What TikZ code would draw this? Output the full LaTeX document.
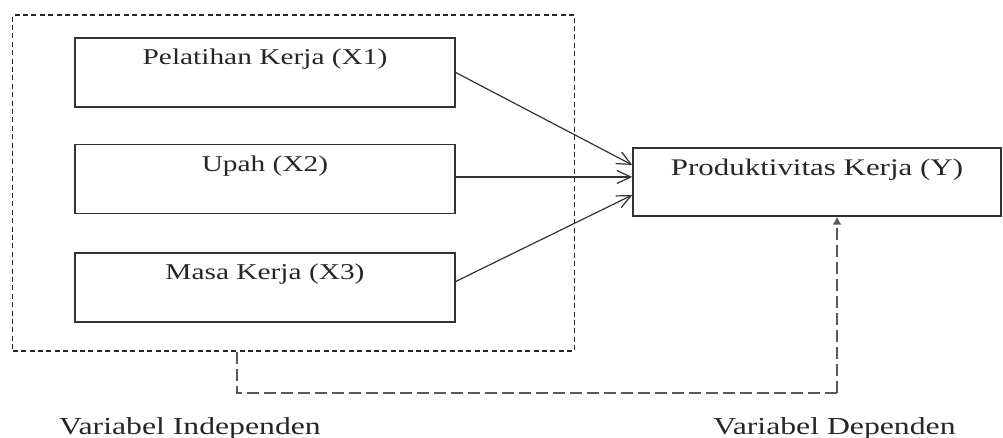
\documentclass[tikz,border=0pt]{standalone}
\usepackage{fontspec}
\setmainfont{Liberation Serif}[FakeStretch=1.3]
\usetikzlibrary{arrows.meta}

\begin{document}
\begin{tikzpicture}[x=1pt,y=1pt,
  varbox/.style={draw=black!80,line width=0.7pt,inner sep=0pt,
    minimum width=190pt,text height=13.5pt,text depth=21pt,
    text=black!85,font=\fontsize{11.3}{13}\selectfont},
  depbox/.style={varbox,minimum width=184pt,text height=14pt,text depth=20pt,
    font=\fontsize{11.9}{14}\selectfont},
  grpbox/.style={draw=black!85,line width=0.6pt,dash pattern=on 2.5pt off 1.7pt,
    minimum width=281pt,minimum height=168pt},
  infl/.style={draw=black!80,line width=0.6pt,-{Straight Barb[length=7pt,width=6.5pt]}},
  link/.style={draw=black!65,line width=0.7pt,dash pattern=on 6pt off 2.5pt},
  caption/.style={anchor=base,text=black!85,font=\fontsize{12.2}{14}\selectfont}]

\useasboundingbox (0,0) rectangle (501.5,219);

% Independent variables
\node[grpbox] (indep) at (146.9,127.5) {};
\node[varbox] (x1) at (132.5,182.75) {Pelatihan Kerja (X1)};
\node[varbox] (x2) at (132.5,129.5) {Upah (X2)};
\node[varbox] (x3) at (132.5,75.25) {Masa Kerja (X3)};

% Dependent variable
\node[depbox] (yk) at (408.5,128) {Produktivitas Kerja (Y)};

% Influence arrows
\draw[infl] (x1.east) -- ([yshift=8.5pt]yk.west);
\draw[infl] ([yshift=1pt]x2.east) -- ([yshift=2.5pt]yk.west);
\draw[infl] ([yshift=3pt]x3.east) -- ([yshift=-6.5pt]yk.west);

% Dashed link from group to dependent
\coordinate (lo) at (118.5,22.5);
\coordinate (ro) at (418.5,22.5);
\draw[link] (indep.south -| lo) -- (lo) -- (ro);
\draw[link,-{Latex[length=4pt,width=4.5pt]}] (ro) -- (ro |- yk.south);

% Captions
\node[caption] (lblind) at (95,1.5) {Variabel Independen};
\node[caption] (lbldep) at (417.25,1.5) {Variabel Dependen};

\end{tikzpicture}
\end{document}
